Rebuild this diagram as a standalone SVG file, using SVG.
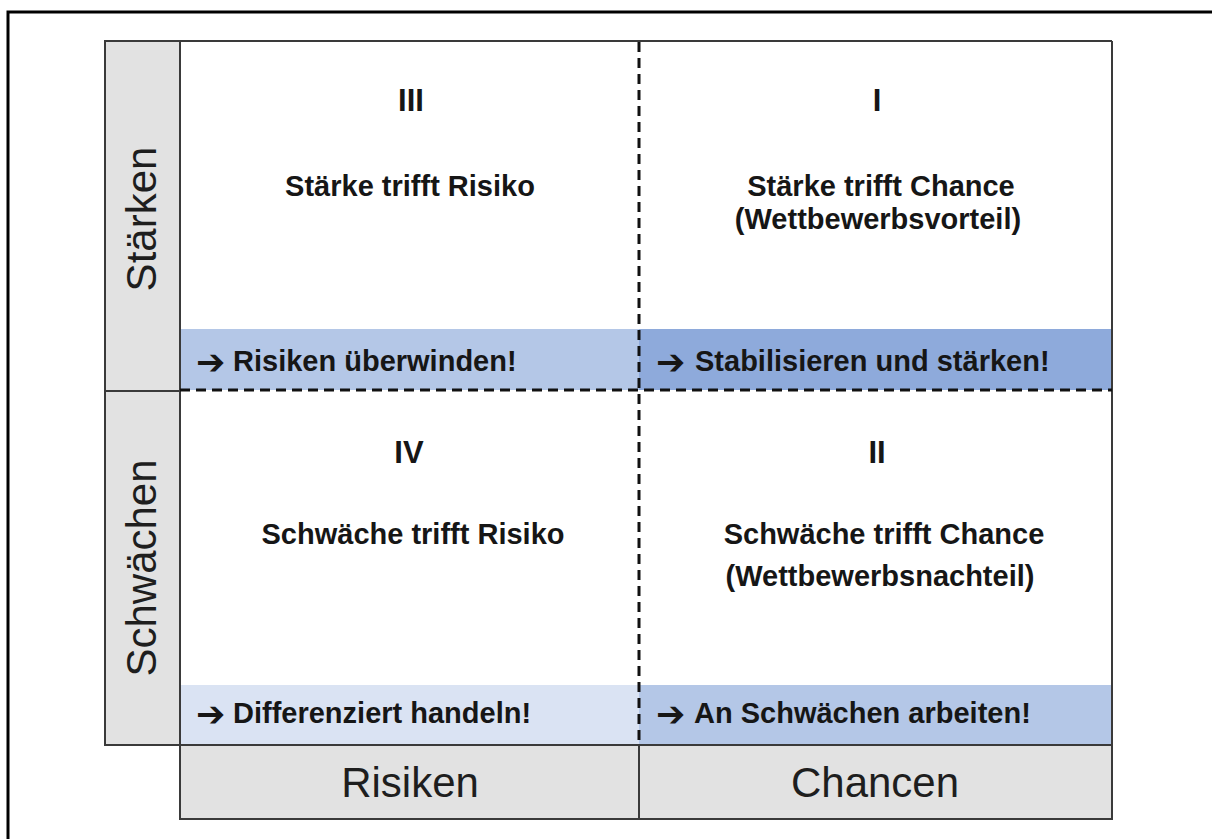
<svg xmlns="http://www.w3.org/2000/svg" width="1212" height="839" viewBox="0 0 1212 839">
<style>
.t{font-family:"Liberation Sans",Arial,sans-serif;fill:#161616}
.num{font-size:31px;font-weight:bold;text-anchor:middle}
.q{font-size:29px;font-weight:bold;text-anchor:middle}
.band{font-size:29px;font-weight:bold}
.arr{font-family:"DejaVu Sans",sans-serif;font-size:35px;font-weight:bold;fill:#161616}
.ax{font-size:42px;text-anchor:middle;fill:#1e1e1e}
.dash{stroke:#111;stroke-width:3;stroke-dasharray:10,6;fill:none}
.grid{stroke:#3a3a3a;stroke-width:2}
.gray{fill:#e2e2e2}
.line{stroke:#3a3a3a;stroke-width:2;fill:none}
</style>
<rect x="8" y="12" width="1220" height="850" fill="none" stroke="#000" stroke-width="3"/>
<g id="col-left">
<rect x="105" y="41" width="75" height="350" class="gray grid"/>
<rect x="105" y="391" width="75" height="354" class="gray grid"/>
<text class="t ax" transform="translate(156,219) rotate(-90)">Stärken</text>
<text class="t ax" transform="translate(156,568) rotate(-90)">Schwächen</text>
</g>
<g id="q3">
<rect x="180" y="41" width="459" height="350" fill="#fff"/>
<rect x="180" y="329" width="459" height="61" fill="#b4c7e7"/>
<text class="t num" x="411" y="111">III</text>
<text class="t q" x="410" y="196">Stärke trifft Risiko</text>
<text class="arr" x="196" y="374">➔</text>
<text class="t band" x="233" y="371">Risiken überwinden!</text>
</g>
<g id="q1">
<rect x="639" y="41" width="473" height="350" fill="#fff"/>
<rect x="639" y="329" width="473" height="61" fill="#8eaadb"/>
<text class="t num" x="877" y="111">I</text>
<text class="t q" x="881" y="196">Stärke trifft Chance</text>
<text class="t q" x="878" y="229">(Wettbewerbsvorteil)</text>
<text class="arr" x="656" y="374">➔</text>
<text class="t band" x="695" y="371">Stabilisieren und stärken!</text>
</g>
<g id="q4">
<rect x="180" y="391" width="459" height="354" fill="#fff"/>
<rect x="180" y="685" width="459" height="60" fill="#dae3f3"/>
<text class="t num" x="409" y="463">IV</text>
<text class="t q" x="413" y="544">Schwäche trifft Risiko</text>
<text class="arr" x="196" y="726">➔</text>
<text class="t band" x="233" y="723">Differenziert handeln!</text>
</g>
<g id="q2">
<rect x="639" y="391" width="473" height="354" fill="#fff"/>
<rect x="639" y="685" width="473" height="60" fill="#b4c7e7"/>
<text class="t num" x="877" y="463">II</text>
<text class="t q" x="884" y="544">Schwäche trifft Chance</text>
<text class="t q" x="880" y="586">(Wettbewerbsnachteil)</text>
<text class="arr" x="656" y="726">➔</text>
<text class="t band" x="694" y="723">An Schwächen arbeiten!</text>
</g>
<g id="row-bottom">
<rect x="180" y="745" width="459" height="74" class="gray grid"/>
<rect x="639" y="745" width="473" height="74" class="gray grid"/>
<text class="t ax" x="410" y="797">Risiken</text>
<text class="t ax" x="875" y="797">Chancen</text>
</g>
<g id="connectors">
<line class="line" x1="180" y1="41" x2="1112" y2="41"/>
<line class="line" x1="1112" y1="41" x2="1112" y2="745"/>
<line class="line" x1="180" y1="41" x2="180" y2="745"/>
<line class="dash" x1="180" y1="390" x2="1112" y2="390"/>
<line class="dash" x1="639" y1="42" x2="639" y2="745"/>
</g>
</svg>
